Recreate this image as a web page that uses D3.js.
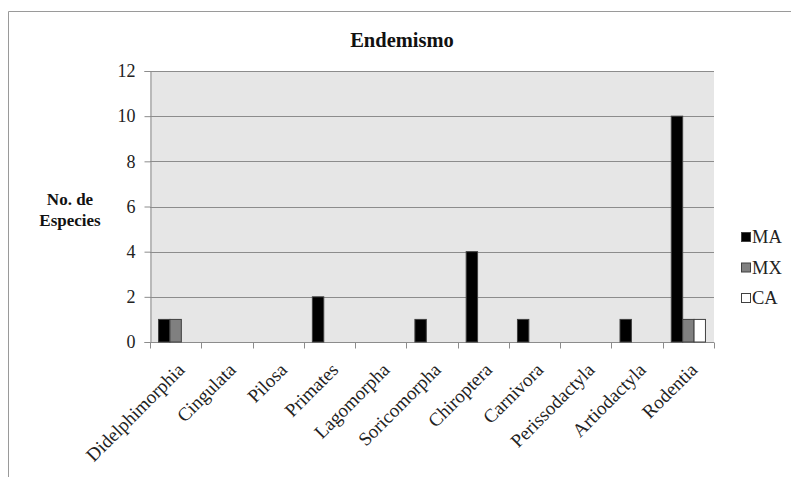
<!DOCTYPE html>
<html><head><meta charset="utf-8">
<script src="https://cdn.jsdelivr.net/npm/d3@7"></script>
<style>body{margin:0;background:#fff;} svg text{font-family:"Liberation Serif","Times New Roman",Times,serif;}</style>
</head><body>
<script>
const categories = ["Didelphimorphia","Cingulata","Pilosa","Primates","Lagomorpha","Soricomorpha","Chiroptera","Carnivora","Perissodactyla","Artiodactyla","Rodentia"];
const seriesNames = ["MA","MX","CA"];
const MA = [1,0,0,2,0,1,4,1,0,1,10];
const MX = [1,0,0,0,0,0,0,0,0,0,1];
const CA = [0,0,0,0,0,0,0,0,0,0,1];
const yTicks = [0,2,4,6,8,10,12];
const colors = ["#000000","#808080","#ffffff"];

const W = 791, H = 477;
const FONT = '"Liberation Serif","Times New Roman",Times,serif';
const svg = d3.select("body").append("svg").attr("width", W).attr("height", H).attr("font-family", FONT);
svg.append("path").attr("d", `M8.5,${H} V11.5 H${W}`).attr("fill","none").attr("stroke","#9a9a9a").attr("stroke-width",1);

const L = 150, R = 714, T = 71, B = 342;
const x = d3.scaleBand().domain(categories).range([L, R]).paddingInner(0).paddingOuter(0);
const y = d3.scaleLinear().domain([0,12]).range([B, T]);
const gapRatio = 1.5;
const off = x.bandwidth()*gapRatio/2/(3+gapRatio);
const xs = d3.scaleBand().domain(seriesNames).range([off, x.bandwidth() - off]).padding(0);

svg.append("rect").attr("x", L).attr("y", T).attr("width", R-L).attr("height", B-T).attr("fill", "#e6e6e6");

svg.append("g").selectAll("line").data(yTicks.filter(d=>d>0)).join("line")
  .attr("x1", L).attr("x2", R).attr("y1", d=>Math.round(y(d))+0.5).attr("y2", d=>Math.round(y(d))+0.5)
  .attr("stroke", "#8c8c8c").attr("stroke-width", 1.2);

const yAxis = svg.append("g").attr("transform", `translate(${L+0.5},0)`)
  .call(d3.axisLeft(y).tickValues(yTicks).tickSize(6).tickPadding(9));
yAxis.attr("font-family", FONT).attr("font-size", 18);
yAxis.select(".domain").attr("stroke", "#8c8c8c");
yAxis.selectAll(".tick line").attr("stroke", "#8c8c8c");
yAxis.selectAll("text").attr("fill","#222").style("font-family", FONT);

const xg = svg.append("g").attr("transform", `translate(0,${B+0.5})`);
xg.append("line").attr("x1", L).attr("x2", R).attr("stroke", "#8c8c8c");
const bounds = categories.map(c => x(c)).concat([R]);
xg.selectAll("line.tk").data(bounds).join("line").attr("class","tk")
  .attr("x1", d=>Math.round(d)+0.5).attr("x2", d=>Math.round(d)+0.5).attr("y1", 0).attr("y2", 6).attr("stroke", "#8c8c8c");

svg.append("g").selectAll("text").data(categories).join("text")
  .attr("transform", d => `translate(${x(d)+x.bandwidth()/2+10},${B+29}) rotate(-45)`)
  .attr("text-anchor","end").attr("font-size", 19).attr("fill","#222").style("font-family", FONT).text(d=>d);

const data = [MA, MX, CA];
const g = svg.append("g");
seriesNames.forEach((s, si) => {
  g.selectAll("rect.s"+si).data(categories.map((c,i)=>({c, v:data[si][i]})).filter(d=>d.v>0)).join("rect")
    .attr("x", d => x(d.c) + xs(s))
    .attr("width", xs.bandwidth())
    .attr("y", d => y(d.v))
    .attr("height", d => B - y(d.v))
    .attr("fill", colors[si]).attr("stroke", "#404040").attr("stroke-width", 1);
});

svg.append("text").attr("x", 402).attr("y", 47).attr("text-anchor","middle").style("font-family", FONT)
  .attr("font-size", 20.5).attr("font-weight","bold").attr("fill","#111").text("Endemismo");

const yt = svg.append("text").attr("text-anchor","middle").attr("font-size", 17).attr("font-weight","bold").attr("fill","#111").style("font-family", FONT);
yt.append("tspan").attr("x", 70).attr("y", 205).text("No. de");
yt.append("tspan").attr("x", 70).attr("y", 226).text("Especies");

const lg = svg.append("g");
seriesNames.forEach((s, i) => {
  const yy = 232 + i*30.5;
  lg.append("rect").attr("x", 741.5).attr("y", yy+0.5).attr("width", 9).attr("height", 9)
    .attr("fill", colors[i]).attr("stroke", "#404040");
  lg.append("text").attr("x", 752).attr("y", yy+11).attr("font-size", 18.5).attr("fill","#222").style("font-family", FONT).text(s);
});
</script>
</body></html>
